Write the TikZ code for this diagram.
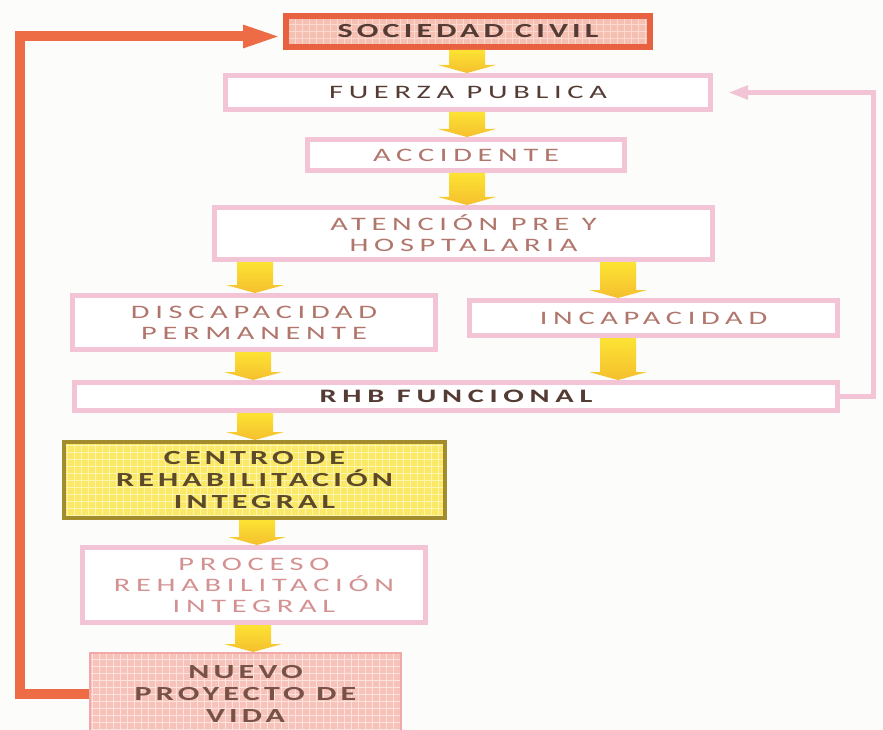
\documentclass[tikz,border=0pt]{standalone}
\usepackage{fontspec}
\usetikzlibrary{arrows.meta,calc}
\newfontfamily\boxfont[FakeStretch=1.6,LetterSpace=30]{Carlito}
\newfontfamily\bigfont[FakeStretch=1.6,LetterSpace=21]{Carlito}
\definecolor{socred}{rgb}{0.91,0.38,0.25}
\definecolor{socfill}{rgb}{0.96,0.75,0.70}
\definecolor{socgrid}{rgb}{0.98,0.85,0.82}
\definecolor{pinkbd}{rgb}{0.95,0.77,0.84}
\definecolor{cenbd}{rgb}{0.64,0.55,0.18}
\definecolor{cenfill}{rgb}{0.98,0.91,0.40}
\definecolor{cengrid}{rgb}{0.99,0.96,0.68}
\definecolor{nuefill}{rgb}{0.97,0.76,0.73}
\definecolor{nuegrid}{rgb}{0.99,0.89,0.87}
\definecolor{nuebd}{rgb}{0.95,0.66,0.66}
\definecolor{darktxt}{rgb}{0.33,0.23,0.20}
\definecolor{rosetxt}{rgb}{0.69,0.46,0.42}
\definecolor{protxt}{rgb}{0.83,0.57,0.57}
\definecolor{olivetxt}{rgb}{0.36,0.29,0.16}
\definecolor{nuetxt}{rgb}{0.47,0.32,0.28}
\definecolor{fbline}{rgb}{0.93,0.42,0.27}
\definecolor{yelltop}{rgb}{0.99,0.89,0.20}
\definecolor{yellbot}{rgb}{0.96,0.75,0.18}

\newcommand{\yarr}[3]{%
  \path (#2.south -| #1,0) coordinate (ya) (#3.north -| #1,0) coordinate (yb);
  \shade[top color=yelltop,bottom color=yellbot] ($(ya)+(-18,0)$) -- ($(ya)+(18,0)$) -- ($(yb)+(18,-8)$) -- ($(yb)+(29,-8)$) -- (yb) -- ($(yb)+(-29,-8)$) -- ($(yb)+(-18,-8)$) -- cycle;}

\tikzset{
  gridfill/.style={path picture={\draw[#1,line width=0.8pt] (path picture bounding box.south west) grid[step=7pt] (path picture bounding box.north east);}},
  box/.style={draw=pinkbd,line width=5pt,fill=white,inner sep=0pt,align=center,text=rosetxt,font={\boxfont\fontsize{19}{21}\selectfont}},
  boldbox/.style={box,font={\boxfont\bfseries\fontsize{19}{21}\selectfont}},
  bigbox/.style={box,font={\bigfont\bfseries\fontsize{20}{22}\selectfont}},
  fbarrow/.style={draw=fbline,line width=10pt,-{Triangle[length=40pt,width=20pt]}},
  pkarrow/.style={draw=pinkbd,line width=5pt,shorten >=15pt,-{Triangle[length=20pt,width=13pt]}}
}

\begin{document}
\begin{tikzpicture}[x=1pt,y=-1pt]
  \path[use as bounding box,fill={rgb,1:red,0.99;green,0.99;blue,0.98}] (0,0) rectangle (883,730);
  \node[bigbox,draw=socred,line width=6pt,fill=socfill,gridfill=socgrid,text=darktxt,minimum width=364pt,minimum height=31pt] (soc) at (468,31.5) {SOCIEDAD CIVIL};
  \node[box,text=darktxt,minimum width=485pt,minimum height=34pt] (fue) at (468,92.5) {FUERZA PUBLICA};
  \node[box,minimum width=317pt,minimum height=31pt] (acc) at (466,155) {ACCIDENTE};
  \node[box,minimum width=498pt,minimum height=52pt] (ate) at (463.5,233.5) {ATENCIÓN PRE Y\\HOSPTALARIA};
  \node[box,minimum width=363pt,minimum height=54pt] (dis) at (254,322.5) {DISCAPACIDAD\\PERMANENTE};
  \node[box,minimum width=368pt,minimum height=35pt] (inc) at (653.5,318) {INCAPACIDAD};
  \node[boldbox,text=darktxt,minimum width=763pt,minimum height=28pt] (rhb) at (456,396.5) {RHB FUNCIONAL};
  \node[bigbox,draw=cenbd,line width=4pt,fill=cenfill,gridfill=cengrid,text=olivetxt,minimum width=381pt,minimum height=76pt] (cen) at (254.5,480) {CENTRO DE\\REHABILITACIÓN\\INTEGRAL};
  \node[box,text=protxt,minimum width=343pt,minimum height=75pt] (pro) at (254,585) {PROCESO\\REHABILITACIÓN\\INTEGRAL};
  \node[bigbox,draw=nuebd,line width=2pt,fill=nuefill,gridfill=nuegrid,text=nuetxt,minimum width=311pt,minimum height=81pt] (nue) at (245.5,693.5) {NUEVO\\PROYECTO DE\\VIDA};
  \yarr{467}{soc}{fue}
  \yarr{467}{fue}{acc}
  \yarr{467}{acc}{ate}
  \yarr{255}{ate}{dis}
  \yarr{618}{ate}{inc}
  \yarr{253}{dis}{rhb}
  \yarr{618}{inc}{rhb}
  \yarr{255}{rhb}{cen}
  \yarr{257}{cen}{pro}
  \yarr{253}{pro}{nue}
  \coordinate (lft) at (20,0);
  \coordinate (rgt) at (873,0);
  \draw[fbarrow] (nue.west) -- (nue.west -| lft) |- ([yshift=-5pt]soc.west);
  \draw[pkarrow] (rhb.east) -- (rhb.east -| rgt) |- (fue.east);
\end{tikzpicture}
\end{document}
